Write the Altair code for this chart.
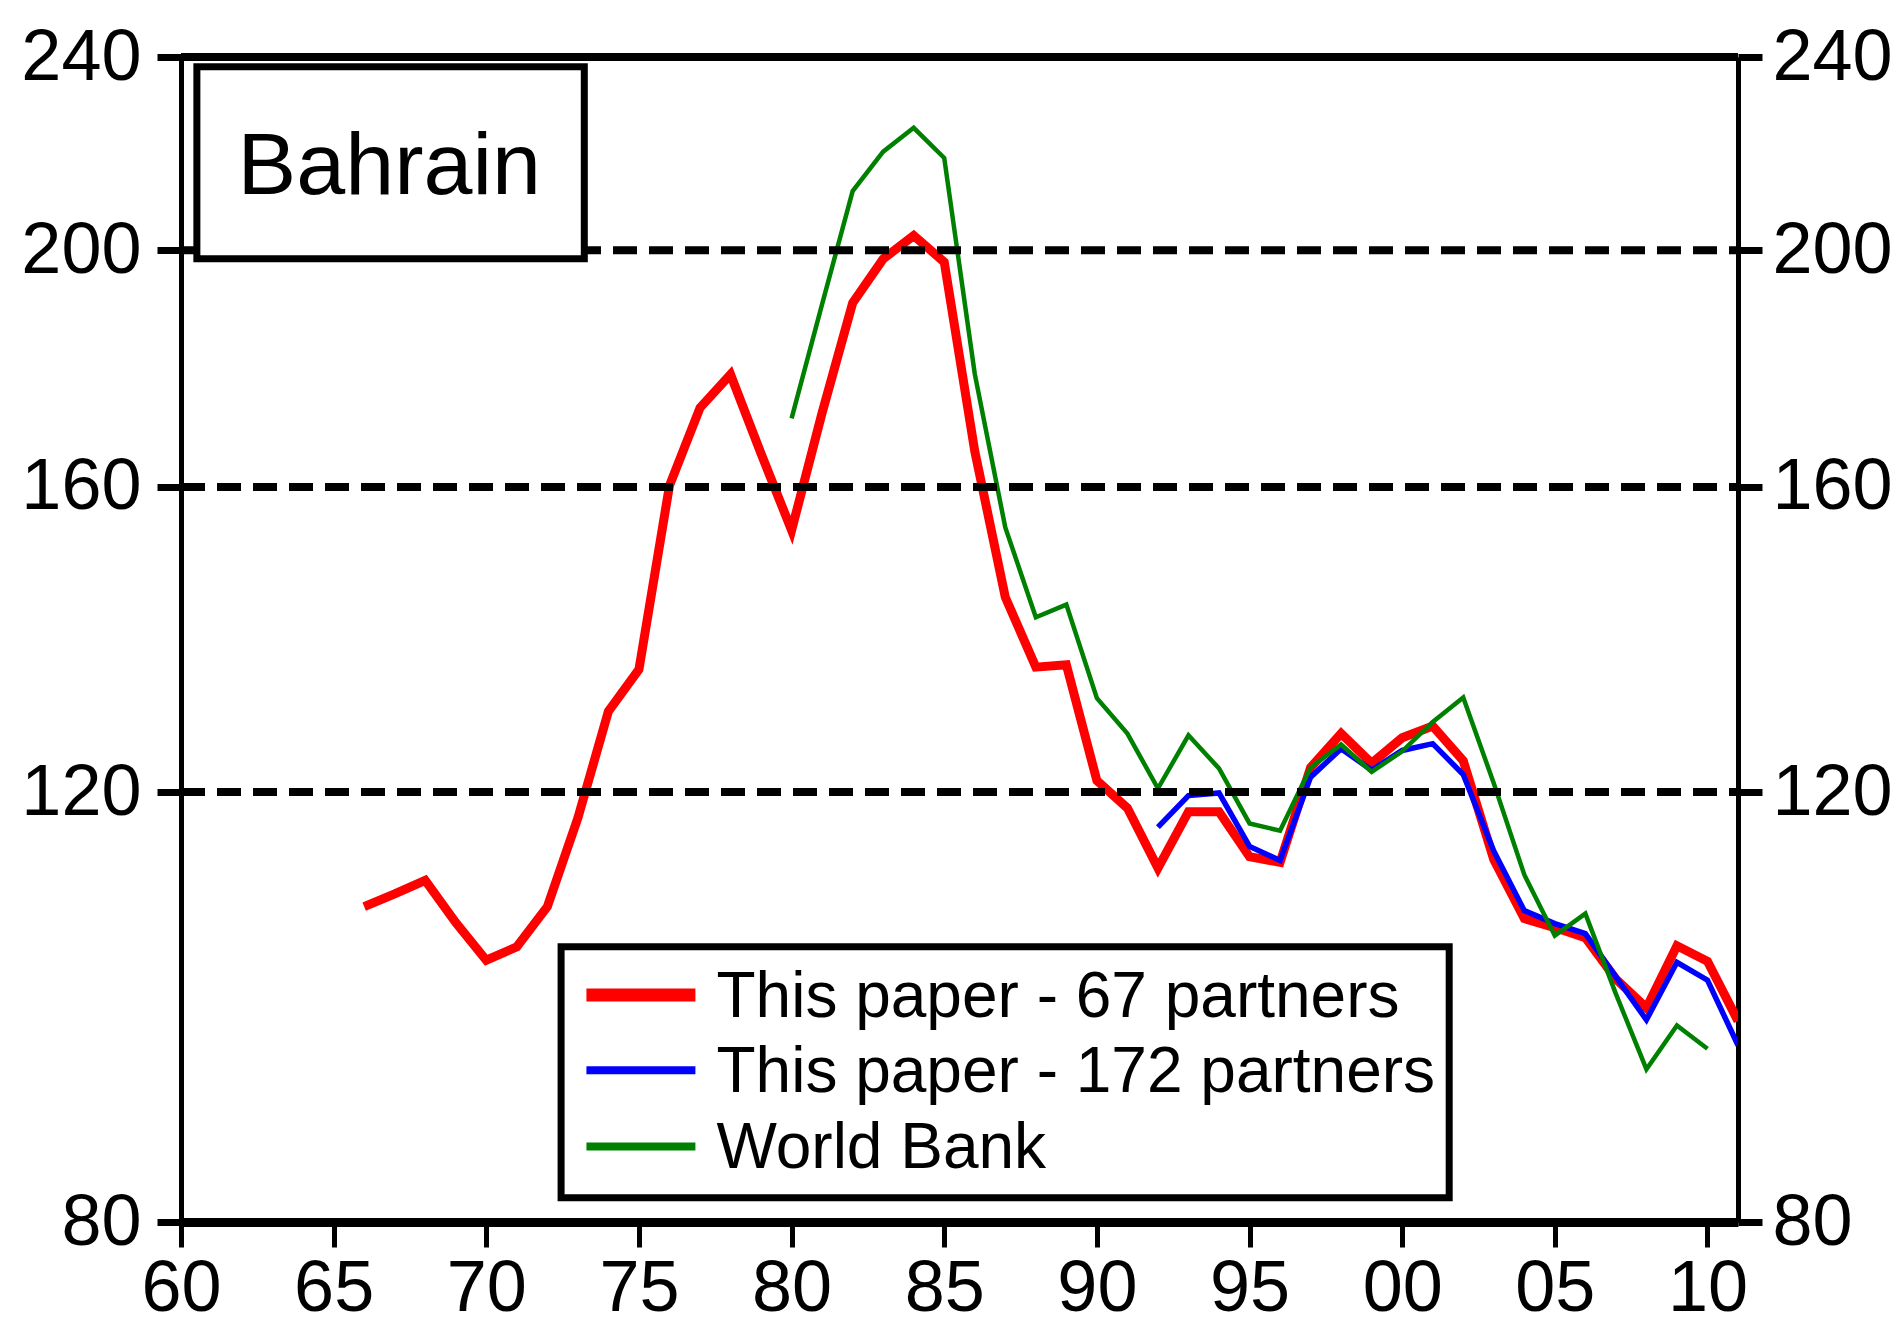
import altair as alt
import pandas as pd

# ---------------- data ----------------
years_67 = list(range(1966, 2012))
partners_67 = [107.7, 109.0, 110.4, 106.1, 102.4, 103.7, 107.7, 117.1, 129.5, 134.7,
               160.2, 172.4, 177.9, 165.1, 153.6, 171.6, 190.3, 198.4, 202.8, 197.8,
               165.5, 144.2, 135.0, 135.3, 121.3, 118.2, 111.7, 117.8, 117.8, 112.9,
               112.3, 122.8, 126.8, 123.3, 126.3, 127.7, 123.6, 112.6, 106.5, 105.6,
               104.6, 100.6, 97.9, 103.8, 102.3, 96.7]

years_172 = list(range(1992, 2012))
partners_172 = [116.1, 119.6, 119.9, 114.0, 112.5, 121.7, 125.0, 122.5, 124.8, 125.6,
                122.0, 113.5, 107.3, 106.0, 105.0, 100.8, 96.8, 102.2, 100.5, 94.5]

years_wb = list(range(1980, 2011))
world_bank = [170.7, 190.1, 211.5, 219.5, 224.5, 218.2, 178.0, 154.0, 141.5, 143.2,
              131.1, 126.8, 120.4, 126.6, 122.7, 116.5, 115.7, 122.8, 125.5, 122.3,
              124.7, 128.2, 131.2, 121.0, 111.0, 104.8, 107.0, 99.2, 92.4, 96.3, 94.2]

x_ticks = list(range(1960, 2011, 5))
y_ticks = [80, 120, 160, 200, 240]
grid_values = [120, 160, 200]
legend_labels = ["This paper - 67 partners", "This paper - 172 partners", "World Bank"]
series_colors = ["#ff0000", "#0000ff", "#008000"]
title_text = "Bahrain"

# ---------------- styling ----------------
FONT = "Liberation Sans, Arial, sans-serif"
W, H = 1557, 1165
X_DOMAIN = [1960, 2011]
Y_DOMAIN = [80, 240]

xscale = alt.Scale(domain=X_DOMAIN, nice=False, zero=False)
yscale = alt.Scale(type="log", domain=Y_DOMAIN, nice=False)

common_axis = dict(title=None, grid=False, labelFont=FONT, labelFontSize=72,
                   labelColor="black", tickColor="black", domainColor="black",
                   labelFlush=False, labelOverlap=False)

x_axis = alt.Axis(values=x_ticks, orient="bottom",
                  labelExpr="substring(format(datum.value, 'd'), 2, 4)",
                  labelPadding=6, tickSize=25, tickWidth=5, domainWidth=9,
                  **common_axis)
y_axis_left = alt.Axis(values=y_ticks, orient="left", format="d",
                       labelPadding=16, tickSize=24, tickWidth=7, domainWidth=5,
                       **common_axis)
y_axis_right = alt.Axis(values=y_ticks, orient="right", format="d",
                        labelPadding=10, tickSize=24, tickWidth=7, domainWidth=5,
                        **common_axis)

dummy = alt.Data(values=[{}])


def X(**kw):
    return alt.X(scale=xscale, axis=x_axis, **kw)


def Y(**kw):
    return alt.Y(scale=yscale, axis=y_axis_left, **kw)


def series_line(years, values, color, width):
    df = pd.DataFrame({"year": years, "value": values})
    return alt.Chart(df).mark_line(color=color, strokeWidth=width,
                                   strokeJoin="miter", clip=True).encode(
        x=X(field="year", type="quantitative"),
        y=Y(field="value", type="quantitative"),
    )


red = series_line(years_67, partners_67, series_colors[0], 9)
blue = series_line(years_172, partners_172, series_colors[1], 5.5)
green = series_line(years_wb, world_bank, series_colors[2], 4.5)

grid = alt.Chart(pd.DataFrame({"g": grid_values})).mark_rule(
    color="black", strokeWidth=8, strokeDash=[24, 12]).encode(
    x=X(datum=X_DOMAIN[0]),
    x2=alt.X2(datum=X_DOMAIN[1]),
    y=Y(field="g", type="quantitative"),
)

top_border = alt.Chart(dummy).mark_rule(color="black", strokeWidth=8).encode(
    x=X(datum=X_DOMAIN[0]),
    x2=alt.X2(datum=X_DOMAIN[1]),
    y=Y(datum=Y_DOMAIN[1]),
)

# title box
title_box = alt.Chart(dummy).mark_rect(fill="white", stroke="black", strokeWidth=7).encode(
    x=X(datum=1960.52),
    x2=alt.X2(datum=1973.21),
    y=Y(datum=237.8),
    y2=alt.Y2(datum=198.4),
)
title_mark = alt.Chart(dummy).mark_text(font=FONT, fontSize=88, align="center",
                                        baseline="alphabetic", color="black").encode(
    x=X(datum=1966.82),
    y=Y(datum=210.9),
    text=alt.value(title_text),
)

# legend box
legend_box = alt.Chart(dummy).mark_rect(fill="white", stroke="black", strokeWidth=7).encode(
    x=X(datum=1972.45),
    x2=alt.X2(datum=2001.54),
    y=Y(datum=103.7),
    y2=alt.Y2(datum=81.85),
)
legend_rows = [99.1, 92.3, 85.9]
legend_baselines = [97.1, 90.4, 84.2]
legend_widths = [13, 8, 8]
legend_layers = []
for lab, col, ry, by, w in zip(legend_labels, series_colors, legend_rows,
                               legend_baselines, legend_widths):
    legend_layers.append(
        alt.Chart(dummy).mark_rule(color=col, strokeWidth=w).encode(
            x=X(datum=1973.28),
            x2=alt.X2(datum=1976.85),
            y=Y(datum=ry),
        )
    )
    legend_layers.append(
        alt.Chart(dummy).mark_text(font=FONT, fontSize=64, align="left",
                                   baseline="alphabetic", color="black").encode(
            x=X(datum=1977.54),
            y=Y(datum=by),
            text=alt.value(lab),
        )
    )

main = alt.layer(red, blue, green, grid, top_border, title_box, title_mark,
                 legend_box, *legend_layers)

right_axis = alt.Chart(dummy).mark_rule(opacity=0).encode(
    y=alt.Y(datum=120, scale=yscale, axis=y_axis_right),
)

chart = alt.layer(main, right_axis).resolve_scale(y="independent").properties(
    width=W, height=H,
    padding={"left": 173, "top": 49, "right": 155, "bottom": 103},
    autosize="none",
).configure_view(stroke=None).configure(background="white")

chart.save("out.html", embed_options={"renderer": "svg", "actions": False})
